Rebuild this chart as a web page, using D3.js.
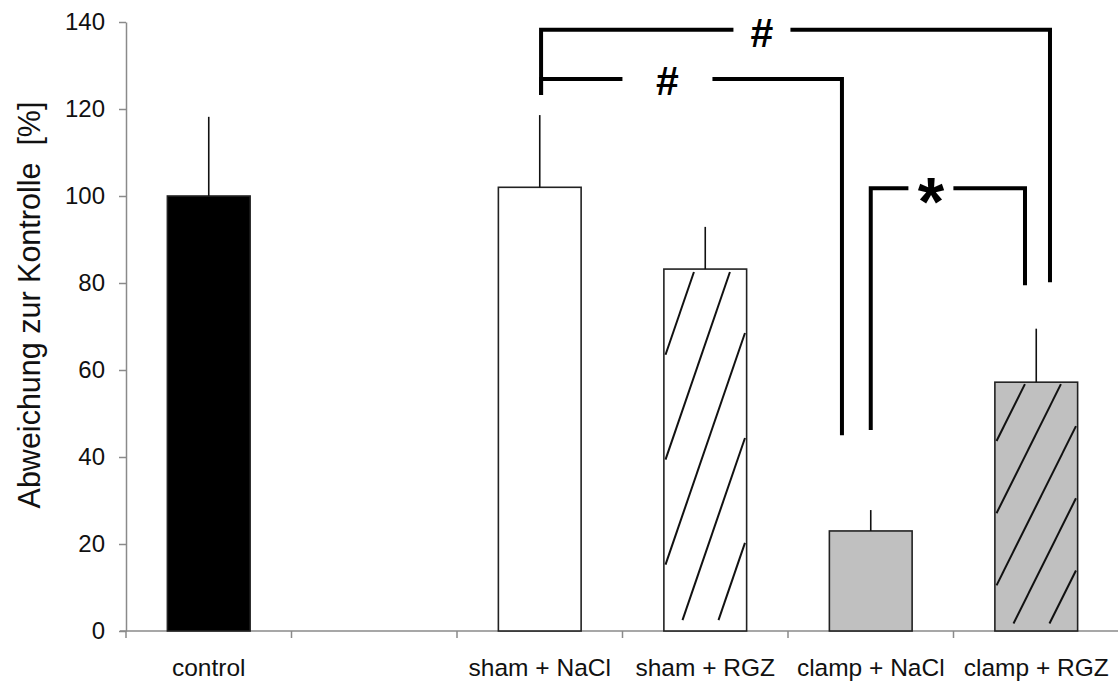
<!DOCTYPE html>
<html>
<head>
<meta charset="utf-8">
<script src="https://cdn.jsdelivr.net/npm/d3@7"></script>
<style>
  html, body { margin: 0; padding: 0; background: #fff; }
  svg { display: block; font-family: "Liberation Sans", Arial, Helvetica, sans-serif; }
</style>
</head>
<body>
<svg id="chart" width="1118" height="682"></svg>
<script>
// ---------- data ----------
const categories = ["control", "", "sham + NaCl", "sham + RGZ", "clamp + NaCl", "clamp + RGZ"];
const values     = [100, null, 102, 83.2, 23, 57.2];
const errors     = [18.2, null, 16.6, 9.7, 4.8, 12.3];
const yTicks     = [0, 20, 40, 60, 80, 100, 120, 140];
const yLabel     = "Abweichung zur Kontrolle  [%]";

// significance brackets (category indices, label, level in % units, leg ends)
const bracketFrom   = [2, 2, 4];
const bracketTo     = [5, 4, 5];
const bracketLabel  = ["#", "#", "*"];
const bracketLevel  = [138.2, 126.9, 101.8];
const bracketLeftEnd  = [123.2, 123.2, 46.2];
const bracketRightEnd = [80.2, 45.0, 79.5];

// ---------- styles / layout ----------
const fillOf  = ["#000000", "none", "#ffffff", "#ffffff", "#c0c0c0", "#c0c0c0"];
const hatched = [false, false, false, true, false, true];
const legOffsetFrom = [0.008, 0.008, 0.0];     // fraction of band
const legOffsetTo   = [0.083, -0.174, -0.068];
const labelFrac     = [0.434, 0.42, 0.39];
const labelGap      = [57, 90, 45];
const labelSize     = [41, 41, 68];
const labelDy       = [17, 16, 37];

const svg = d3.select("#chart");
const plotLeft = 126, plotRight = 1119, plotTop = 22, plotBottom = 631;

const x = d3.scaleBand().domain(d3.range(categories.length)).range([plotLeft, plotRight]).padding(0);
const y = d3.scaleLinear().domain([0, 140]).range([plotBottom, plotTop]);
const bw = x.bandwidth() * 0.5;
const barX = i => x(i) + (x.bandwidth() - bw) / 2;

const axisColor = "#8a8a8a";

// x axis line
svg.append("line")
  .attr("x1", plotLeft - 6).attr("x2", 1118)
  .attr("y1", y(0)).attr("y2", y(0))
  .attr("stroke", axisColor).attr("stroke-width", 1.5);

// boundary ticks
svg.append("g").selectAll("line")
  .data(d3.range(categories.length))
  .join("line")
  .attr("x1", d => x(d)).attr("x2", d => x(d))
  .attr("y1", y(0)).attr("y2", y(0) + 7)
  .attr("stroke", axisColor).attr("stroke-width", 1.5);

// x labels
const xAxis = d3.axisBottom(x).tickSize(0).tickFormat(i => categories[i]);
const gx = svg.append("g").attr("transform", `translate(0,${y(0)})`).call(xAxis);
gx.select(".domain").remove();
gx.selectAll("text")
  .attr("y", 45).attr("dy", 0)
  .attr("font-size", 24.5).attr("fill", "#111")
  .attr("font-family", "'Liberation Sans', Arial, sans-serif");

// y axis
const yAxis = d3.axisLeft(y).tickValues(yTicks).tickSize(7).tickSizeOuter(0).tickPadding(14);
const gy = svg.append("g").attr("transform", `translate(${plotLeft},0)`).call(yAxis);
gy.select(".domain").attr("stroke", axisColor).attr("stroke-width", 1.5);
gy.selectAll(".tick line").attr("stroke", axisColor).attr("stroke-width", 1.5);
gy.selectAll("text")
  .attr("font-size", 24).attr("fill", "#111")
  .attr("font-family", "'Liberation Sans', Arial, sans-serif");

// y label
svg.append("text")
  .attr("transform", `translate(40,305) rotate(-90)`)
  .attr("text-anchor", "middle")
  .attr("font-size", 30.5).attr("fill", "#111")
  .style("white-space", "pre")
  .text(yLabel);

// bars
const idx = d3.range(categories.length).filter(i => values[i] != null);

svg.append("g").selectAll("rect")
  .data(idx)
  .join("rect")
  .attr("x", i => barX(i)).attr("width", bw)
  .attr("y", i => y(values[i])).attr("height", i => y(0) - y(values[i]))
  .attr("fill", i => fillOf[i])
  .attr("stroke", "#222").attr("stroke-width", 1.6);

// hatch lines (bar-relative)
const hatchC = [0.25, 0.54, 0.83, 1.12, 1.41];
const hatchSlope = 2 / 3;
function hatchSegment(c) {
  const u0 = 0.02, u1 = 0.98, v0 = 0.008, v1 = 0.97;
  let ua = Math.max(u0, (c - v1) / hatchSlope);
  let ub = Math.min(u1, (c - v0) / hatchSlope);
  if (ub <= ua) return null;
  return [ua, c - hatchSlope * ua, ub, c - hatchSlope * ub];
}
const hg = svg.append("g");
idx.filter(i => hatched[i]).forEach(i => {
  const x0 = barX(i), y0 = y(values[i]), h = y(0) - y(values[i]);
  hatchC.forEach(c => {
    const s = hatchSegment(c);
    if (!s) return;
    hg.append("line")
      .attr("x1", x0 + s[0] * bw).attr("y1", y0 + s[1] * h)
      .attr("x2", x0 + s[2] * bw).attr("y2", y0 + s[3] * h)
      .attr("stroke", "#111").attr("stroke-width", 2);
  });
});

// error bars (upper only)
svg.append("g").selectAll("line")
  .data(idx)
  .join("line")
  .attr("x1", i => x(i) + x.bandwidth() / 2).attr("x2", i => x(i) + x.bandwidth() / 2)
  .attr("y1", i => y(values[i])).attr("y2", i => y(values[i] + errors[i]))
  .attr("stroke", "#111").attr("stroke-width", 1.6);

// significance brackets
const bg = svg.append("g");
bracketFrom.forEach((f, k) => {
  const t = bracketTo[k];
  const xa = x(f) + x.bandwidth() / 2 + legOffsetFrom[k] * x.bandwidth();
  const xb = x(t) + x.bandwidth() / 2 + legOffsetTo[k] * x.bandwidth();
  const yl = y(bracketLevel[k]);
  const lx = xa + labelFrac[k] * (xb - xa);
  const g2 = labelGap[k] / 2;
  const p1 = bg.append("path")
    .attr("d", `M${xa},${y(bracketLeftEnd[k])} L${xa},${yl} L${lx - g2},${yl}`);
  const p2 = bg.append("path")
    .attr("d", `M${lx + g2},${yl} L${xb},${yl} L${xb},${y(bracketRightEnd[k])}`);
  [p1, p2].forEach(p => p.attr("stroke", "#000").attr("stroke-width", 4).attr("fill", "none"));
  bg.append("text")
    .attr("x", lx).attr("y", yl + labelDy[k])
    .attr("text-anchor", "middle")
    .attr("font-size", labelSize[k]).attr("font-weight", "bold")
    .attr("fill", "#000")
    .text(bracketLabel[k]);
});
</script>
</body>
</html>
